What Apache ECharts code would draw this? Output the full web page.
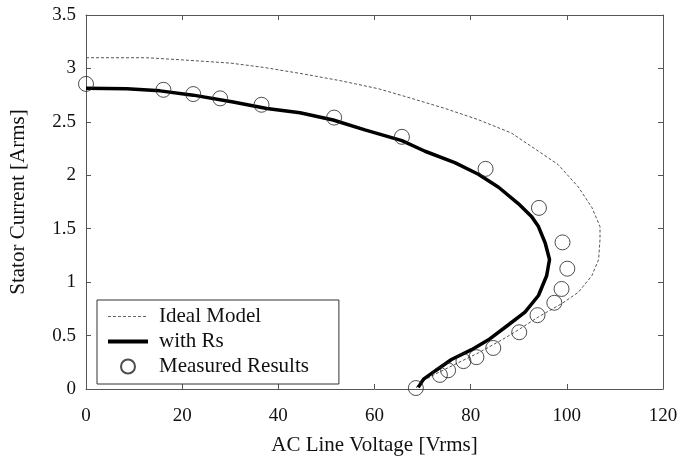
<!DOCTYPE html>
<html>
<head>
<meta charset="utf-8">
<script src="https://cdn.jsdelivr.net/npm/echarts@6/dist/echarts.min.js"></script>
<style>html,body{margin:0;padding:0;background:#fff}#c{width:695px;height:461px}</style>
</head>
<body>
<div id="c"></div>
<script>
const xTicks = [0, 20, 40, 60, 80, 100, 120];
const yTicks = [0, 0.5, 1, 1.5, 2, 2.5, 3, 3.5];

const idealV = [0, 12.6, 20, 30, 36.9, 45, 52.8, 60.8, 67.7, 74.7, 81.6, 88.5, 94.1, 98.2, 102.4, 105.2, 106.9, 106.9, 106.6, 105.2, 102.4, 98.9, 94.1, 89.9, 86.5, 81.6, 76.7, 71.9, 69.1, 68.6];
const idealI = [3.10, 3.10, 3.08, 3.05, 3.01, 2.95, 2.886, 2.81, 2.72, 2.625, 2.52, 2.395, 2.225, 2.10, 1.89, 1.70, 1.52, 1.397, 1.21, 1.06, 0.905, 0.798, 0.675, 0.553, 0.46, 0.338, 0.23, 0.123, 0.046, 0];

const rsV = [0, 8.5, 15.4, 22.3, 30.6, 37.6, 44.5, 51.4, 58.0, 65.7, 70.5, 76.7, 81.6, 85.8, 89.9, 92.7, 94.1, 95.5, 96.4, 95.8, 94.1, 91.3, 87.8, 83.7, 80.2, 76.0, 72.6, 70.2, 69.1];
const rsI = [2.815, 2.81, 2.79, 2.75, 2.686, 2.625, 2.585, 2.517, 2.425, 2.324, 2.225, 2.118, 2.01, 1.888, 1.735, 1.612, 1.52, 1.366, 1.212, 1.06, 0.875, 0.72, 0.599, 0.46, 0.368, 0.276, 0.169, 0.092, 0.015];

const measV = [0, 16.1, 22.3, 27.9, 36.5, 51.6, 65.7, 83.1, 94.2, 99.1, 100.1, 98.9, 97.4, 93.9, 90.1, 84.7, 81.2, 78.5, 75.3, 73.6, 68.6];
const measI = [2.855, 2.80, 2.76, 2.72, 2.66, 2.54, 2.36, 2.06, 1.695, 1.372, 1.126, 0.936, 0.807, 0.691, 0.531, 0.384, 0.298, 0.261, 0.175, 0.132, 0.009];

const names = ['Ideal Model', 'with Rs', 'Measured Results'];
const xName = 'AC Line Voltage [Vrms]';
const yName = 'Stator Current [Arms]';

const pairs = (xs, ys) => xs.map((v, i) => [v, ys[i]]);
const FONT = '"Liberation Serif", "DejaVu Serif", serif';
const frame = '#555';

const chart = echarts.init(document.getElementById('c'), null, {renderer: 'canvas'});
const axisCommon = {
  type: 'value',
  splitLine: {show: false},
  axisLine: {show: true, onZero: false, lineStyle: {color: frame, width: 1}},
  axisTick: {show: true, inside: true, length: 5, lineStyle: {color: frame}},
};
chart.setOption({
  animation: false,
  grid: {left: 86, right: 32, top: 15, bottom: 66, containLabel: false},
  legend: {
    orient: 'vertical', left: 97, top: 300,
    itemWidth: 40, itemHeight: 14, itemGap: 4,
    padding: [6, 30, 7, 9],
    borderColor: '#333', borderWidth: 1, backgroundColor: '#fff',
    textStyle: {fontFamily: FONT, fontSize: 21, lineHeight: 21, color: '#111', padding: [0, 0, 0, 6]},
    data: [
      {name: names[0], itemStyle: {opacity: 0}, lineStyle: {color: '#666', width: 1, type: [3, 2]}},
      {name: names[1], itemStyle: {opacity: 0}, lineStyle: {color: '#000', width: 4}},
      {name: names[2]}
    ]
  },
  xAxis: [
    Object.assign({}, axisCommon, {
      min: xTicks[0], max: xTicks[xTicks.length - 1], interval: 20, position: 'bottom',
      name: xName, nameLocation: 'middle', nameGap: 46,
      nameTextStyle: {fontFamily: FONT, fontSize: 21, color: '#111'},
      axisLabel: {fontFamily: FONT, fontSize: 19, color: '#111', margin: 18}
    }),
    Object.assign({}, axisCommon, {
      min: xTicks[0], max: xTicks[xTicks.length - 1], interval: 20, position: 'top',
      axisLabel: {show: false}
    })
  ],
  yAxis: [
    Object.assign({}, axisCommon, {
      min: yTicks[0], max: yTicks[yTicks.length - 1], interval: 0.5, position: 'left',
      name: yName, nameLocation: 'middle', nameGap: 57,
      nameTextStyle: {fontFamily: FONT, fontSize: 21, color: '#111'},
      axisLabel: {fontFamily: FONT, fontSize: 19, color: '#111', margin: 10}
    }),
    Object.assign({}, axisCommon, {
      min: yTicks[0], max: yTicks[yTicks.length - 1], interval: 0.5, position: 'right',
      axisLabel: {show: false}
    })
  ],
  series: [
    {
      name: names[0], type: 'line', xAxisIndex: 0, yAxisIndex: 0,
      data: pairs(idealV, idealI), symbol: 'none', smooth: false,
      itemStyle: {color: '#555'},
      lineStyle: {color: '#555', width: 1, type: [3, 2]}, z: 2
    },
    {
      name: names[1], type: 'line', xAxisIndex: 0, yAxisIndex: 0,
      data: pairs(rsV, rsI), symbol: 'none', smooth: false,
      itemStyle: {color: '#000'},
      lineStyle: {color: '#000', width: 3.5}, z: 3
    },
    {
      name: names[2], type: 'scatter', xAxisIndex: 0, yAxisIndex: 0,
      data: pairs(measV, measI), symbol: 'circle', symbolSize: 15,
      itemStyle: {color: 'rgba(255,255,255,0)', borderColor: '#222', borderWidth: 1}, z: 4
    }
  ]
});
</script>
</body>
</html>
